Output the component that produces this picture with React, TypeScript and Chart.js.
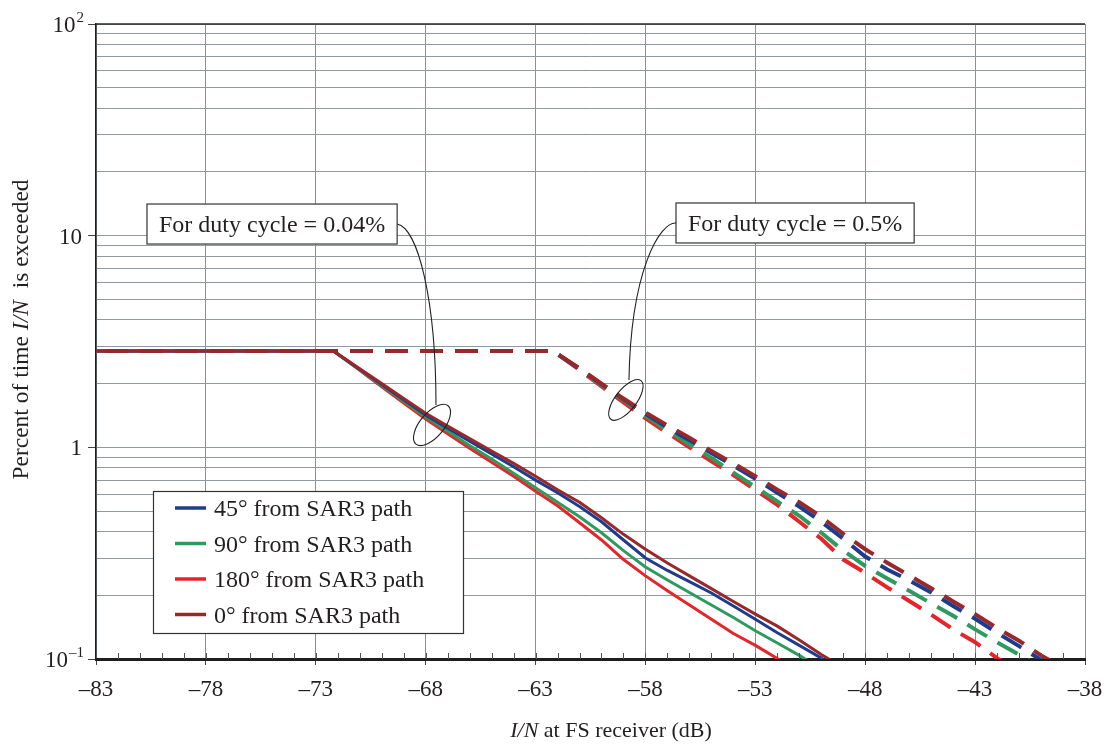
import React, { useEffect, useRef } from "react";
import { Chart, registerables } from "chart.js";

Chart.register(...registerables);

// ---------- data ----------
const xSolid = [-83, -72.2, -71, -70, -69, -68, -67, -66, -65, -64, -63, -62, -61, -60, -59, -58, -57, -56, -55, -54, -53, -52, -51, -50, -49];
const solid45 = [2.85, 2.85, 2.34, 1.98, 1.68, 1.42, 1.23, 1.07, 0.93, 0.81, 0.7, 0.61, 0.525, 0.445, 0.365, 0.3, 0.262, 0.232, 0.205, 0.178, 0.154, 0.133, 0.116, 0.101, 0.086];
const solid90 = [2.85, 2.85, 2.33, 1.96, 1.65, 1.39, 1.19, 1.02, 0.88, 0.755, 0.645, 0.55, 0.47, 0.395, 0.325, 0.272, 0.236, 0.206, 0.18, 0.157, 0.136, 0.119, 0.104, 0.0895, 0.077];
const solid180 = [2.85, 2.85, 2.31, 1.93, 1.62, 1.36, 1.16, 0.99, 0.85, 0.73, 0.62, 0.53, 0.44, 0.365, 0.295, 0.247, 0.21, 0.18, 0.154, 0.132, 0.116, 0.1005, 0.087, 0.075, 0.065];
const solid0 = [2.85, 2.85, 2.35, 2.0, 1.7, 1.45, 1.26, 1.1, 0.96, 0.84, 0.73, 0.63, 0.55, 0.465, 0.388, 0.33, 0.284, 0.247, 0.215, 0.187, 0.163, 0.143, 0.123, 0.105, 0.091];

const xDashed = [-83, -62.2, -61, -60, -59, -58, -57, -56, -55, -54, -53, -52, -51, -50, -49, -48, -47, -46, -45, -44, -43, -42, -41, -40, -39];
const dashed45 = [2.85, 2.85, 2.35, 1.99, 1.69, 1.44, 1.24, 1.08, 0.94, 0.82, 0.71, 0.61, 0.525, 0.445, 0.37, 0.305, 0.265, 0.235, 0.206, 0.178, 0.155, 0.133, 0.115, 0.099, 0.085];
const dashed90 = [2.85, 2.85, 2.34, 1.97, 1.67, 1.41, 1.2, 1.03, 0.89, 0.76, 0.65, 0.555, 0.475, 0.395, 0.325, 0.275, 0.24, 0.21, 0.183, 0.16, 0.138, 0.12, 0.105, 0.091, 0.078];
const dashed180 = [2.85, 2.85, 2.32, 1.94, 1.63, 1.37, 1.17, 1.0, 0.86, 0.74, 0.63, 0.535, 0.445, 0.37, 0.295, 0.255, 0.218, 0.188, 0.162, 0.138, 0.12, 0.101, 0.087, 0.075, 0.065];
const dashed0 = [2.85, 2.85, 2.36, 2.0, 1.7, 1.46, 1.27, 1.11, 0.96, 0.84, 0.73, 0.63, 0.55, 0.47, 0.39, 0.33, 0.285, 0.248, 0.216, 0.187, 0.163, 0.14, 0.122, 0.104, 0.091];

const seriesLabels = ["45° from SAR3 path", "90° from SAR3 path", "180° from SAR3 path", "0° from SAR3 path"];
const seriesColors = ["#1f3c8c", "#2e9a5e", "#e4262a", "#98282a"];

const xTickValues = [-83, -78, -73, -68, -63, -58, -53, -48, -43, -38];
const xTickLabels = ["–83", "–78", "–73", "–68", "–63", "–58", "–53", "–48", "–43", "–38"];
const yGridValues = [0.1, 0.2, 0.3, 0.4, 0.5, 0.6, 0.7, 0.8, 0.9, 1, 2, 3, 4, 5, 6, 7, 8, 9, 10, 20, 30, 40, 50, 60, 70, 80, 90, 100];
const yTickValues = [0.1, 1, 10, 100];
const yTickBase = ["10", "1", "10", "10"];
const yTickSup = ["–1", "", "", "2"];

const annotationTexts = ["For duty cycle = 0.04%", "For duty cycle = 0.5%"];
const annotationLeft = [{ x: -80.68, y: 11.35 }, { x: -56.61, y: 11.48 }];
const annotationLeaderSide = ["right", "left"];
const leaderCtrl1 = [{ x: -68.35, y: 10.87 }, { x: -57.34, y: 11.6 }];
const leaderCtrl2 = [{ x: -67.53, y: 4.97 }, { x: -58.66, y: 6.88 }];
const leaderEnd = [{ x: -67.53, y: 1.585 }, { x: -58.75, y: 2.08 }];
const ellipseCenters = [{ x: -67.71, y: 1.276 }, { x: -58.89, y: 1.675 }];

const FONT_FAMILY = '"Liberation Serif", "Times New Roman", serif';
const TEXT_COLOR = "#231f20";

function font(size: number, italic = false) {
  return `${italic ? "italic " : ""}${size}px ${FONT_FAMILY}`;
}

type Run = { text: string; italic?: boolean };

function drawRuns(ctx: CanvasRenderingContext2D, runs: Run[], x: number, y: number, align: string, size: number) {
  let total = 0;
  const widths = runs.map((r) => {
    ctx.font = font(size, r.italic);
    const w = ctx.measureText(r.text).width;
    total += w;
    return w;
  });
  let cx = align === "center" ? x - total / 2 : align === "right" ? x - total : x;
  ctx.textAlign = "left";
  ctx.textBaseline = "alphabetic";
  runs.forEach((r, i) => {
    ctx.font = font(size, r.italic);
    ctx.fillText(r.text, cx, y);
    cx += widths[i];
  });
}

const overlayPlugin = {
  id: "overlay",
  afterDraw(chart: any) {
    const { ctx, chartArea: a, scales } = chart;
    const xs = scales.x;
    const ys = scales.y;
    const px = (v: number) => xs.getPixelForValue(v);
    const py = (v: number) => ys.getPixelForValue(v);
    ctx.save();

    // top border
    ctx.strokeStyle = "#2a2a2a";
    ctx.lineWidth = 1.5;
    ctx.beginPath();
    ctx.moveTo(a.left, a.top);
    ctx.lineTo(a.right, a.top);
    ctx.stroke();

    // minor x ticks (inside, upward)
    ctx.strokeStyle = "#555";
    ctx.lineWidth = 1;
    for (let v = -82; v < -38; v++) {
      const xx = Math.round(px(v)) + 0.5;
      ctx.beginPath();
      ctx.moveTo(xx, a.bottom);
      ctx.lineTo(xx, a.bottom - 6);
      ctx.stroke();
    }

    ctx.fillStyle = TEXT_COLOR;
    // x tick labels
    ctx.font = font(23);
    ctx.textAlign = "center";
    ctx.textBaseline = "alphabetic";
    xTickValues.forEach((v, i) => {
      ctx.fillText(xTickLabels[i], px(v), a.bottom + 37);
    });

    // y tick labels
    yTickValues.forEach((v, i) => {
      const yy = py(v);
      const sup = yTickSup[i];
      let right = a.left - 14;
      if (sup) {
        right = a.left - 12;
        ctx.font = font(15);
        ctx.textAlign = "right";
        ctx.fillText(sup, right, yy - 2);
        right -= ctx.measureText(sup).width + 1;
      }
      ctx.font = font(23);
      ctx.textAlign = "right";
      ctx.fillText(yTickBase[i], right, yy + 8);
    });

    // axis titles
    drawRuns(ctx, [{ text: "I/N", italic: true }, { text: " at FS receiver (dB)" }], a.left + 515, a.bottom + 78, "center", 22);
    ctx.save();
    ctx.translate(28, (a.top + a.bottom) / 2 - 12);
    ctx.rotate(-Math.PI / 2);
    drawRuns(ctx, [{ text: "Percent of time " }, { text: "I/N", italic: true }, { text: "  is exceeded" }], 0, 0, "center", 23.5);
    ctx.restore();

    // legend
    const lx = a.left + 57;
    const ly = a.bottom - 168;
    const lw = 310;
    const lh = 142;
    ctx.fillStyle = "#ffffff";
    ctx.fillRect(lx, ly, lw, lh);
    ctx.strokeStyle = "#333";
    ctx.lineWidth = 1.2;
    ctx.strokeRect(lx + 0.5, ly + 0.5, lw, lh);
    seriesLabels.forEach((lab, i) => {
      const ry = ly + 17 + i * 35.5;
      ctx.strokeStyle = seriesColors[i];
      ctx.lineWidth = 3.5;
      ctx.beginPath();
      ctx.moveTo(lx + 22, ry);
      ctx.lineTo(lx + 53, ry);
      ctx.stroke();
      ctx.fillStyle = TEXT_COLOR;
      ctx.font = font(24);
      ctx.textAlign = "left";
      ctx.fillText(lab, lx + 61, ry + 8);
    });

    // annotation boxes, leaders and ellipses
    annotationTexts.forEach((t, i) => {
      ctx.font = font(24);
      const tw = ctx.measureText(t).width;
      const bw = tw + 24;
      const bh = 40;
      const bx = px(annotationLeft[i].x);
      const cy = py(annotationLeft[i].y);
      const by = cy - bh / 2;
      ctx.fillStyle = "#ffffff";
      ctx.fillRect(bx, by, bw, bh);
      ctx.strokeStyle = "#333";
      ctx.lineWidth = 1.2;
      ctx.strokeRect(bx, by, bw, bh);
      ctx.fillStyle = TEXT_COLOR;
      ctx.textAlign = "center";
      ctx.fillText(t, bx + bw / 2, cy + 8);

      const sx = annotationLeaderSide[i] === "right" ? bx + bw : bx;
      ctx.strokeStyle = "#222";
      ctx.lineWidth = 1.1;
      ctx.beginPath();
      ctx.moveTo(sx, cy);
      ctx.bezierCurveTo(px(leaderCtrl1[i].x), py(leaderCtrl1[i].y), px(leaderCtrl2[i].x), py(leaderCtrl2[i].y), px(leaderEnd[i].x), py(leaderEnd[i].y));
      ctx.stroke();

      ctx.beginPath();
      ctx.ellipse(px(ellipseCenters[i].x), py(ellipseCenters[i].y), i === 0 ? 25 : 24.5, i === 0 ? 12 : 10.5, (i === 0 ? -50 : -52) * Math.PI / 180, 0, Math.PI * 2);
      ctx.stroke();
    });

    ctx.restore();
  },
};

function toPoints(xv: number[], yv: number[]) {
  return xv.map((x, i) => ({ x, y: yv[i] }));
}

export default function App() {
  const ref = useRef<HTMLCanvasElement>(null);
  useEffect(() => {
    const solid = [solid45, solid90, solid180, solid0];
    const dashed = [dashed45, dashed90, dashed180, dashed0];
    const datasets: any[] = [];
    // first dataset is drawn top-most: brown, then blue, green, red
    [3, 0, 1, 2].forEach((si) => {
      datasets.push({
        label: seriesLabels[si],
        data: toPoints(xSolid, solid[si]),
        borderColor: seriesColors[si],
        borderWidth: 3,
        pointRadius: 0,
        tension: 0,
        fill: false,
        clip: 0,
        borderJoinStyle: "round",
      });
      datasets.push({
        label: seriesLabels[si] + " (0.5%)",
        data: toPoints(xDashed, dashed[si]),
        borderColor: seriesColors[si],
        borderWidth: 4,
        borderDash: [23, 12],
        borderDashOffset: -9,
        pointRadius: 0,
        tension: 0,
        fill: false,
        clip: 0,
      });
    });
    const chart = new Chart(ref.current as HTMLCanvasElement, {
      type: "line",
      data: { datasets },
      plugins: [overlayPlugin],
      options: {
        animation: false,
        responsive: false,
        maintainAspectRatio: false,
        layout: { padding: { top: 24, right: 21, left: 0, bottom: 0 } },
        plugins: { legend: { display: false }, tooltip: { enabled: false } },
        scales: {
          x: {
            type: "linear",
            min: -83,
            max: -38,
            afterBuildTicks: (scale: any) => {
              const t: any[] = [];
              for (let v = -83; v <= -38; v++) t.push({ value: v });
              scale.ticks = t;
            },
            afterFit: (scale: any) => {
              scale.height = 90;
            },
            ticks: { display: false, autoSkip: false },
            grid: {
              color: (c: any) => (((c.tick?.value ?? 0) + 83) % 5 === 0 ? "#86909a" : "rgba(0,0,0,0)"),
              lineWidth: 1,
              tickLength: 6,
              tickColor: (c: any) => (((c.tick?.value ?? 0) + 83) % 5 === 0 ? "#444" : "rgba(0,0,0,0)"),
            },
            border: { color: "#1e1e1e", width: 3 },
          },
          y: {
            type: "logarithmic",
            min: 0.1,
            max: 100,
            afterBuildTicks: (scale: any) => {
              scale.ticks = yGridValues.map((v) => ({ value: v }));
            },
            afterFit: (scale: any) => {
              scale.width = 96;
            },
            ticks: { display: false, autoSkip: false },
            grid: {
              color: "#8f99a2",
              lineWidth: 1,
              tickLength: 8,
              tickColor: (c: any) => (yTickValues.some((v) => Math.abs(v - (c.tick?.value ?? -1)) < 1e-9) ? "#444" : "rgba(0,0,0,0)"),
            },
            border: { color: "#1e1e1e", width: 1.5 },
          },
        },
      } as any,
    });
    return () => chart.destroy();
  }, []);
  return (
    <div style={{ position: "fixed", left: 0, top: 0, width: 1106, height: 749, background: "#ffffff" }}>
      <canvas ref={ref} width={1106} height={749} style={{ display: "block" }} />
    </div>
  );
}
